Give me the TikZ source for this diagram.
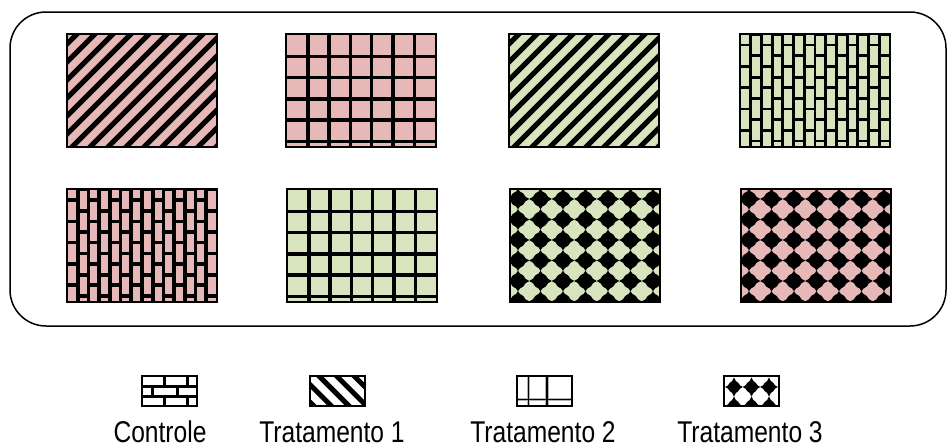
\documentclass[tikz,border=0pt]{standalone}
\usepackage{fontspec}
\setmainfont{Liberation Sans}
\definecolor{pinkc}{HTML}{E6B9B8}
\definecolor{greenc}{HTML}{D7E4BD}
\tikzset{
  boxborder/.style={draw=black,line width=1.6pt},
  legtext/.style={font=\fontsize{30}{34}\selectfont,anchor=base,inner sep=0pt},
}
\newcommand{\narrow}[1]{\scalebox{0.82}[1]{#1}}
% one black blob: round core radius #5 with four pointed tips (half widths #3,#4)
\newcommand{\blob}[5]{%
  \fill[black] ({#1},{#2}) +(-#3,0) -- +(-0.55*#5,-0.55*#5) -- +(0,-#4) -- +(0.55*#5,-0.55*#5)
     -- +(#3,0) -- +(0.55*#5,0.55*#5) -- +(0,#4) -- +(-0.55*#5,0.55*#5) -- cycle;
  \fill[black] ({#1},{#2}) circle [radius=#5];
}
% diagonal stripes (up-right)
\newcommand{\boxstripes}[3]{%
  \begin{scope}
    \clip (#1,#2) rectangle ++(150,113);
    \fill[#3] (#1,#2) rectangle ++(150,113);
    \foreach \k in {-8,...,9} {
      \draw[line width=5pt] ({#1+\k*18},{#2+118}) -- ++(130,-130);
    }
  \end{scope}
  \draw[boxborder] (#1,#2) rectangle ++(150,113);
}
% square grid
\newcommand{\boxgrid}[3]{%
  \begin{scope}
    \clip (#1,#2) rectangle ++(150,113);
    \fill[#3] (#1,#2) rectangle ++(150,113);
    \foreach \k in {1,...,6} {\draw[line width=3.5pt] ({#1+0.5+\k*21.3},#2) -- ++(0,113);}
    \foreach \k in {1,...,5} {\draw[line width=3.5pt] (#1,{#2+1+\k*21.3}) -- ++(150,0);}
  \end{scope}
  \draw[boxborder,line width=2.5pt] (#1,#2) rectangle ++(150,113);
}
% vertical bricks
\newcommand{\boxbricks}[4]{%
  \begin{scope}
    \clip (#1,#2) rectangle ++(150,113);
    \fill[#3] (#1,#2) rectangle ++(150,113);
    \foreach \c in {1,...,13} {\draw[line width=#4] ({#1+\c*10.714},#2) -- ++(0,113);}
    \foreach \c in {0,...,13} {
      \pgfmathsetmacro\off{mod(\c,2)==0 ? 11 : 0.5}
      \foreach \j in {0,...,5} {
        \draw[line width=#4] ({#1+\c*10.714},{#2+\off+\j*21.3}) -- ++(10.714,0);
      }
    }
  \end{scope}
  \draw[boxborder,line width=2.5pt] (#1,#2) rectangle ++(150,113);
}
% black diamonds
\newcommand{\boxdiam}[3]{%
  \begin{scope}
    \clip (#1,#2) rectangle ++(150,113);
    \fill[#3] (#1,#2) rectangle ++(150,113);
    \foreach \i in {-1,...,7} {
      \foreach \j in {0,...,6} {
        \blob{#1+8+\i*22.5}{#2+10+\j*20.5}{11.3}{10.3}{7.6}
      }
    }
  \end{scope}
  \draw[boxborder] (#1,#2) rectangle ++(150,113);
}
\begin{document}
\begin{tikzpicture}[x=1pt,y=-1pt]
\useasboundingbox (0,0) rectangle (948,447);
\fill[white] (0,0) rectangle (948,447);
% frame
\draw[line width=1.5pt,rounded corners=36pt] (10,12) rectangle (946,326);
% row 1
\boxstripes{67}{34}{pinkc}
\boxgrid{286}{34}{pinkc}
\boxstripes{509}{34}{greenc}
\boxbricks{740}{34}{greenc}{2.8pt}
% row 2
\boxbricks{67}{189}{pinkc}{3.6pt}
\boxgrid{287}{189}{greenc}
\boxdiam{510}{189}{greenc}
\boxdiam{741}{189}{pinkc}
% legend: Controle (horizontal bricks)
\begin{scope}
  \fill[white] (142,376) rectangle ++(55,30);
  \draw[line width=3pt] (142,386) -- ++(55,0) (142,396) -- ++(55,0);
  \draw[line width=3pt] (164.5,376) -- ++(0,10) (187,376) -- ++(0,10);
  \draw[line width=3pt] (152,386) -- ++(0,10) (177,386) -- ++(0,10);
  \draw[line width=3pt] (164.5,396) -- ++(0,10) (187,396) -- ++(0,10);
  \draw[line width=2.5pt] (142,376) rectangle ++(55,30);
\end{scope}
% legend: Tratamento 1 (stripes)
\begin{scope}
  \clip (310,376) rectangle ++(55,30);
  \fill[white] (310,376) rectangle ++(55,30);
  \foreach \k in {-2,...,3} {\draw[line width=5pt] ({314+\k*17.6},371) -- ++(40,40);}
\end{scope}
\draw[line width=2pt] (310,376) rectangle ++(55,30);
% legend: Tratamento 2 (grid)
\fill[white] (517,376) rectangle ++(55,30);
\draw[gray!60,line width=3.5pt] (528.5,376) -- ++(0,30) (547,376) -- ++(0,30) (517,399.5) -- ++(55,0);
\draw[line width=1.6pt] (528.5,376) -- ++(0,30) (547,376) -- ++(0,30) (517,399.5) -- ++(55,0);
\draw[line width=1.8pt] (517,376) rectangle ++(55,30);
% legend: Tratamento 3 (diamonds)
\begin{scope}
  \clip (724,376) rectangle ++(55,30);
  \fill[white] (724,376) rectangle ++(55,30);
  \foreach \i in {-1,...,3} {
    \foreach \j in {0,1} {
      \blob{734+\i*17.5}{387+\j*19}{8.8}{9.5}{6}
    }
  }
\end{scope}
\draw[line width=1.8pt] (724,376) rectangle ++(55,30);
% legend texts
\node[legtext] (tc) at (160,442) {\narrow{Controle}};
\node[legtext] (t1) at (332,442) {\narrow{Tratamento 1}};
\node[legtext] (t2) at (543,442) {\narrow{Tratamento 2}};
\node[legtext] (t3) at (750,442) {\narrow{Tratamento 3}};
\end{tikzpicture}
\end{document}
